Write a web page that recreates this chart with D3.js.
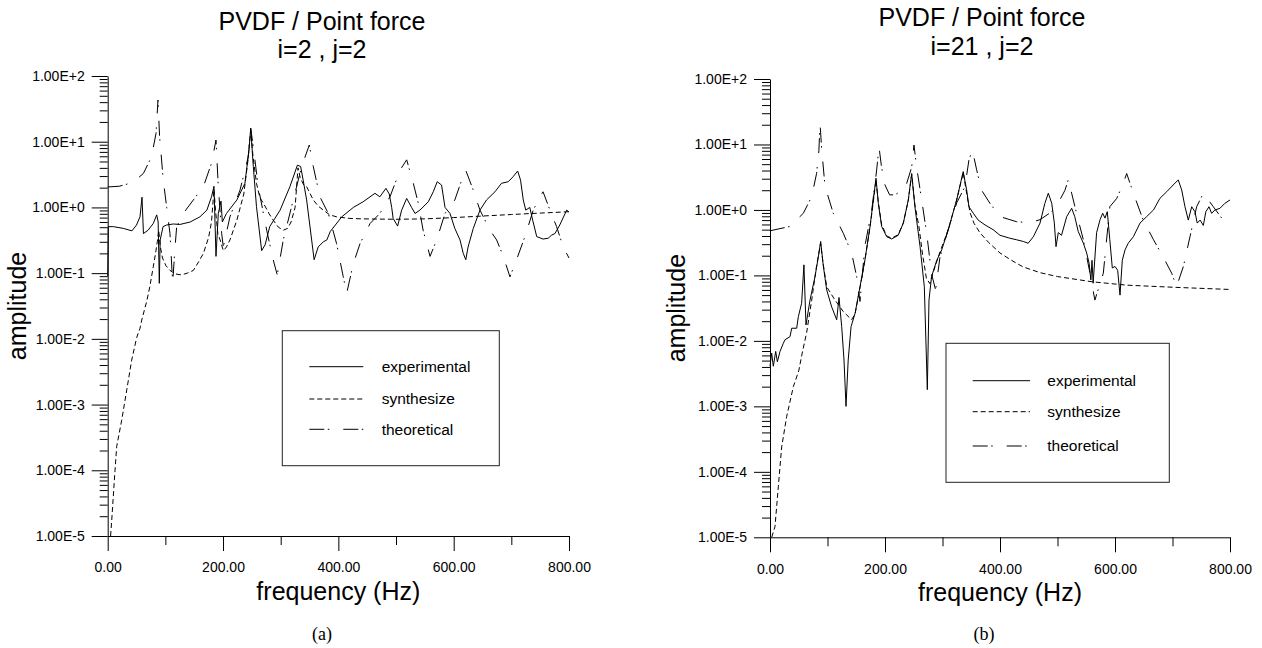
<!DOCTYPE html>
<html>
<head>
<meta charset="utf-8">
<title>PVDF / Point force</title>
<script src="https://cdn.jsdelivr.net/npm/d3@7"></script>
<style>
    body { margin: 0; background: #fff; }
    svg { font-family: Arial, "Liberation Sans", sans-serif; }
    .caption { font-family: "Times New Roman", "Liberation Serif", serif; }
</style>
</head>
<body>
<script>
// ---- data ----
var seriesNames = ["experimental", "synthesize", "theoretical"];
var xTicks = [0, 200, 400, 600, 800];
var xMinorTicks = [100, 300, 500, 700];
var yTicks = [1e-5, 1e-4, 1e-3, 1e-2, 1e-1, 1e0, 1e1, 1e2];
var yTickLabels = ["1.00E-5", "1.00E-4", "1.00E-3", "1.00E-2", "1.00E-1", "1.00E+0", "1.00E+1", "1.00E+2"];
var titles = ["PVDF / Point force", "PVDF / Point force"];
var subTitles = ["i=2 , j=2", "i=21 , j=2"];
var captions = ["(a)", "(b)"];

// panel (a): [frequency Hz, amplitude]
var expA = [[0,0.09],[1,0.51],[10,0.51],[27,0.48],[42,0.44],[50,0.54],[56,0.72],[59.5,1.43],[62,0.40],[70,0.45],[79,0.57],[85,0.77],[87.5,0.6],[89.5,0.07],[91,0.32],[96,0.51],[102,0.54],[114,0.56],[125,0.55],[143,0.60],[160,0.72],[172,0.91],[180,1.45],[184.3,2.1],[187.8,0.18],[191.8,0.81],[196.5,1.25],[198.8,0.6],[206,0.81],[224,1.3],[238,2.33],[245,7.5],[248,16],[252.5,4.2],[258,1.03],[267,0.22],[273,0.27],[281,0.51],[299,0.91],[316,2.07],[329,4.4],[334.6,4.2],[339,2.6],[345,1.3],[353.7,0.32],[358,0.16],[365,0.25],[374,0.30],[380,0.32],[386,0.43],[406,0.72],[426,1.0],[443,1.22],[463.5,1.64],[472,1.45],[482.6,1.95],[488.3,1.6],[492.5,1.0],[495,0.68],[502.8,0.52],[509.8,0.91],[518.5,1.37],[527,1.0],[533,0.81],[541.5,0.91],[556,1.22],[564.6,1.73],[571.5,2.46],[579,2.19],[585,1.0],[593.6,0.81],[602,0.48],[611,0.32],[616.6,0.2],[621,0.16],[625,0.25],[634,0.48],[645.6,0.91],[657,1.3],[671.6,1.73],[683,2.33],[694.6,2.46],[703,2.93],[711,3.58],[716,2.6],[720.7,1.3],[725,0.91],[732,1.0],[737,0.64],[744,0.36],[755,0.33],[764,0.34],[770,0.38],[775.6,0.4],[784,0.54],[796,0.91],[800,0.85]];
var synA = [[5,1.0e-5],[7,1.75e-5],[12.7,1e-4],[15.6,2.3e-4],[24.3,5.8e-4],[33,1.66e-3],[41.6,4.75e-3],[50.3,0.0105],[56,0.0144],[59,0.0193],[67.6,0.037],[73,0.062],[79,0.125],[83,0.2],[86,0.3],[88.5,0.45],[91,0.26],[95,0.17],[101,0.13],[108,0.11],[118,0.097],[128,0.094],[138,0.1],[148.5,0.11],[158,0.15],[166,0.2],[175,0.35],[180,0.6],[184.3,1.9],[187,0.9],[191,0.4],[195,0.32],[200.5,0.22],[206,0.25],[212,0.32],[224,0.64],[236,1.6],[243,5],[248,15],[252,6],[258,2.33],[264,1.4],[270,1.16],[280,0.8],[287,0.64],[296,0.5],[304.5,0.45],[312,0.48],[318,0.6],[325,1.0],[330,4.0],[334,2.8],[340,2.2],[345,2.07],[356.5,1.3],[365,1.05],[374,0.91],[385,0.77],[397,0.72],[420,0.68],[440,0.67],[500,0.66],[550,0.67],[600,0.7],[650,0.74],[700,0.78],[750,0.82],[800,0.86]];
var theoA = [[0,2.05],[20,2.1],[44,2.4],[62,3.3],[76,5.9],[83.8,13.4],[87.2,43],[90,12],[96.4,2.6],[102.3,1.0],[108,0.4],[112.7,0.07],[116,0.2],[119.6,0.51],[131,0.81],[148.5,1.3],[166,2.07],[180,4.7],[187.8,10.6],[191.8,2.07],[197.7,0.4],[200.5,0.25],[212,0.72],[229.4,1.83],[243.8,5.9],[248,16],[252.5,8.4],[261,2.07],[275.7,0.45],[287,0.16],[294,0.094],[304.5,0.32],[321.8,1.3],[336.4,4.2],[349.6,8.9],[356.5,4.2],[368,1.45],[382.6,0.81],[397,0.28],[408.5,0.088],[414.4,0.049],[426,0.14],[437.5,0.28],[455,0.57],[472,0.81],[489.5,1.45],[507,3.7],[518.5,5.3],[530,2.33],[538.6,1.16],[547,0.45],[559,0.18],[570.5,0.32],[585,0.81],[602,1.3],[612,2.33],[620.8,3.7],[634,1.83],[645.6,0.91],[663,0.45],[674.5,0.32],[686,0.18],[697.6,0.088],[709,0.16],[723.6,0.36],[738,0.91],[749.6,1.45],[755,1.73],[767,0.91],[778.5,0.51],[790,0.25],[800,0.17]];

// panel (b)
var expB = [[0,0.0041],[2.9,0.0065],[5.8,0.0041],[9.9,0.0069],[12.8,0.0048],[17.4,0.0069],[23.2,0.0092],[26,0.0104],[34.8,0.0116],[37.7,0.0156],[46.4,0.0156],[49.3,0.0235],[55,0.0376],[59,0.145],[62.6,0.0175],[69.6,0.042],[78.3,0.096],[84,0.19],[88.1,0.33],[92.7,0.14],[98.6,0.06],[107.3,0.033],[116,0.021],[120,0.046],[124.7,0.0165],[128.7,0.0051],[132.2,0.001],[136,0.0051],[141,0.0165],[148,0.0265],[156.5,0.067],[165,0.17],[174,0.56],[179.7,1.42],[184.3,3.05],[188.4,1.26],[194.2,0.56],[203,0.39],[211.6,0.36],[223,0.41],[231.9,0.63],[240.5,1.42],[246.4,3.6],[252,1.12],[261,0.275],[268.4,0.067],[273.6,0.0018],[276.5,0.042],[281,0.096],[290,0.17],[298.6,0.245],[310,0.5],[324.6,1.42],[336,3.85],[342,2.02],[346,1.12],[353.6,0.89],[362,0.70],[374,0.59],[388,0.5],[400,0.41],[417,0.37],[429,0.35],[440.5,0.33],[449,0.31],[458,0.39],[469.6,0.63],[478,1.26],[484,1.8],[490,1.26],[494.5,0.63],[497.4,0.275],[501.4,0.45],[507,0.41],[516,0.79],[524.6,1.06],[530,0.79],[536,0.47],[545,0.31],[550.7,0.22],[555,0.153],[558,0.085],[560,0.17],[562,0.076],[568,0.45],[574,0.71],[578.6,0.89],[582.6,0.75],[586.6,0.94],[591,0.35],[595.3,0.13],[600,0.137],[604.6,0.12],[608.7,0.05],[612.7,0.17],[617.4,0.245],[623,0.31],[632,0.39],[643.5,0.63],[655,0.79],[667,1.0],[678,1.5],[690,1.9],[701,2.4],[710,2.87],[716,2.02],[721.7,1.12],[727.5,0.70],[733.4,1.12],[739,0.94],[743,0.63],[748,0.70],[753.6,0.58],[758,0.94],[763.5,1.12],[768,0.89],[774,1.0],[782.6,1.06],[791,1.26],[800,1.42]];
var synB = [[3,1e-5],[8.7,1.46e-5],[14.5,6e-5],[20.3,2.4e-4],[29,7e-4],[40.6,0.002],[50,0.0035],[56,0.0065],[63.8,0.0135],[72.5,0.042],[81,0.14],[88,0.31],[92,0.16],[98.6,0.067],[113,0.042],[127.5,0.028],[142,0.021],[148,0.026],[156.5,0.065],[165,0.17],[174,0.55],[180,1.4],[184.3,2.9],[188.4,1.3],[194,0.6],[203,0.4],[211.6,0.37],[223,0.42],[232,0.64],[240.5,1.4],[246.4,3.5],[252,1.2],[259,0.56],[265,0.22],[272,0.09],[278,0.075],[285,0.12],[295,0.22],[310,0.5],[324.6,1.42],[336,3.7],[342,1.8],[348,0.9],[355,0.62],[365,0.45],[380,0.32],[400,0.22],[420,0.17],[440,0.135],[470,0.11],[500,0.096],[560,0.08],[620,0.071],[700,0.066],[800,0.061]];
var theoB = [[0,0.48],[34.8,0.56],[58,0.89],[72.5,1.6],[81,3.6],[85,8],[87,21],[90,8.2],[95.7,2.3],[110,0.89],[127.5,0.44],[142,0.22],[150.7,0.096],[156.5,0.04],[160,0.09],[165,0.28],[177,1.0],[185.5,4.1],[189.6,9.2],[194,4.5],[200,2.4],[208,1.7],[217,1.7],[234.8,2.1],[246.4,4.5],[250.4,9.8],[255,4.5],[263.8,1.42],[272.5,0.44],[281,0.105],[288,0.06],[295.6,0.19],[310,0.5],[325,1.3],[339,2.27],[346,5.8],[352,8.2],[359.4,4.1],[368,2.0],[382.6,1.26],[400,0.79],[429,0.66],[452,0.64],[469.6,0.71],[490,0.94],[504,1.42],[513,2.0],[519,2.94],[524.6,1.8],[534.5,0.79],[545,0.35],[556.5,0.108],[565,0.042],[579.7,0.108],[591,1.12],[603,1.5],[614.5,2.56],[620.3,3.6],[632,1.8],[649,0.7],[667,0.35],[684,0.19],[698.6,0.108],[707,0.067],[718.8,0.136],[730.4,0.39],[742,1.12],[753.6,1.8],[771,1.12],[788,0.7],[800,0.54]];

// ---- layout ----
var width = 1262;
var height = 648;
var dashes = [null, "5,3", "15,3.5,1.5,14"];

var panels = [
    { left: 107.7, right: 569, top: 76, bottom: 536, data: [expA, synA, theoA],
      titleX: 322, titleY: 30, subY: 58, ylabX: 26, xlabY: 600, captionX: 322,
      legend: { x: 282.3, y: 330.7, w: 217, h: 135, rows: [366.7, 399, 429.3], lx0: 309.3, lx1: 363.3, tx: 381.7 } },
    { left: 770, right: 1230, top: 79, bottom: 537.3, data: [expB, synB, theoB],
      titleX: 982, titleY: 26, subY: 55, ylabX: 685, xlabY: 601, captionX: 984,
      legend: { x: 946, y: 343.3, w: 223.3, h: 139, rows: [380.7, 411.7, 446], lx0: 972.7, lx1: 1030, tx: 1047.3 } }
];

var svg = d3.select("body")
    .append("svg")
    .attr("width", width)
    .attr("height", height);

panels.forEach(function(p, k) {
    var x = d3.scaleLinear().domain([0, 800]).range([p.left, p.right]);
    var y = d3.scaleLog().domain([1e-5, 1e2]).range([p.bottom, p.top]);
    var g = svg.append("g");

    // minor log ticks (2..9 in each decade)
    var yMinor = y.ticks().filter(function(v) { return yTicks.indexOf(v) < 0 && Math.abs(Math.log10(v) % 1) > 1e-9; });

    g.append("g")
        .attr("transform", "translate(" + p.left + ",0)")
        .call(d3.axisLeft(y).tickValues(yMinor).tickSize(8).tickSizeOuter(0).tickFormat(""))
        .call(function(s) { s.select(".domain").remove(); });

    var ya = g.append("g")
        .attr("transform", "translate(" + p.left + ",0)")
        .call(d3.axisLeft(y).tickValues(yTicks).tickSize(16).tickSizeOuter(0).tickPadding(7)
            .tickFormat(function(d, i) { return yTickLabels[i]; }));
    ya.attr("font-family", null).attr("font-size", 14);

    g.append("g")
        .attr("transform", "translate(0," + p.bottom + ")")
        .call(d3.axisBottom(x).tickValues(xMinorTicks).tickSize(9).tickSizeOuter(0).tickFormat(""))
        .call(function(s) { s.select(".domain").remove(); });

    var xa = g.append("g")
        .attr("transform", "translate(0," + p.bottom + ")")
        .call(d3.axisBottom(x).tickValues(xTicks).tickSize(15).tickSizeOuter(0).tickPadding(11.5)
            .tickFormat(function(d) { return d.toFixed(2); }));
    xa.attr("font-family", null).attr("font-size", 14);

    // curves
    var line = d3.line()
        .x(function(d) { return x(d[0]); })
        .y(function(d) { return y(d[1]); });

    p.data.forEach(function(s, i) {
        g.append("path")
            .datum(s)
            .attr("fill", "none")
            .attr("stroke", "#000")
            .attr("stroke-width", 1)
            .attr("stroke-dasharray", dashes[i])
            .attr("d", line);
    });

    // titles
    g.append("text").attr("x", p.titleX).attr("y", p.titleY)
        .attr("text-anchor", "middle").attr("font-size", 25).text(titles[k]);
    g.append("text").attr("x", p.titleX).attr("y", p.subY)
        .attr("text-anchor", "middle").attr("font-size", 25).text(subTitles[k]);

    g.append("text").attr("x", (p.left + p.right) / 2).attr("y", p.xlabY)
        .attr("text-anchor", "middle").attr("font-size", 25).text("frequency (Hz)");
    g.append("text")
        .attr("transform", "translate(" + p.ylabX + "," + (p.top + p.bottom) / 2 + ") rotate(-90)")
        .attr("text-anchor", "middle").attr("font-size", 25).text("amplitude");

    g.append("text").attr("class", "caption").attr("x", p.captionX).attr("y", 640)
        .attr("text-anchor", "middle").attr("font-size", 18).text(captions[k]);

    // legend
    var L = p.legend;
    var lg = g.append("g");
    lg.append("rect").attr("x", L.x).attr("y", L.y).attr("width", L.w).attr("height", L.h)
        .attr("fill", "#fff").attr("stroke", "#222").attr("stroke-width", 1);
    seriesNames.forEach(function(name, i) {
        lg.append("line").attr("x1", L.lx0).attr("x2", L.lx1).attr("y1", L.rows[i]).attr("y2", L.rows[i])
            .attr("stroke", "#000").attr("stroke-width", 1).attr("stroke-dasharray", dashes[i]);
        lg.append("text").attr("x", L.tx).attr("y", L.rows[i]).attr("dy", "0.35em")
            .attr("font-size", 15.5).text(name);
    });
});
</script>
</body>
</html>
